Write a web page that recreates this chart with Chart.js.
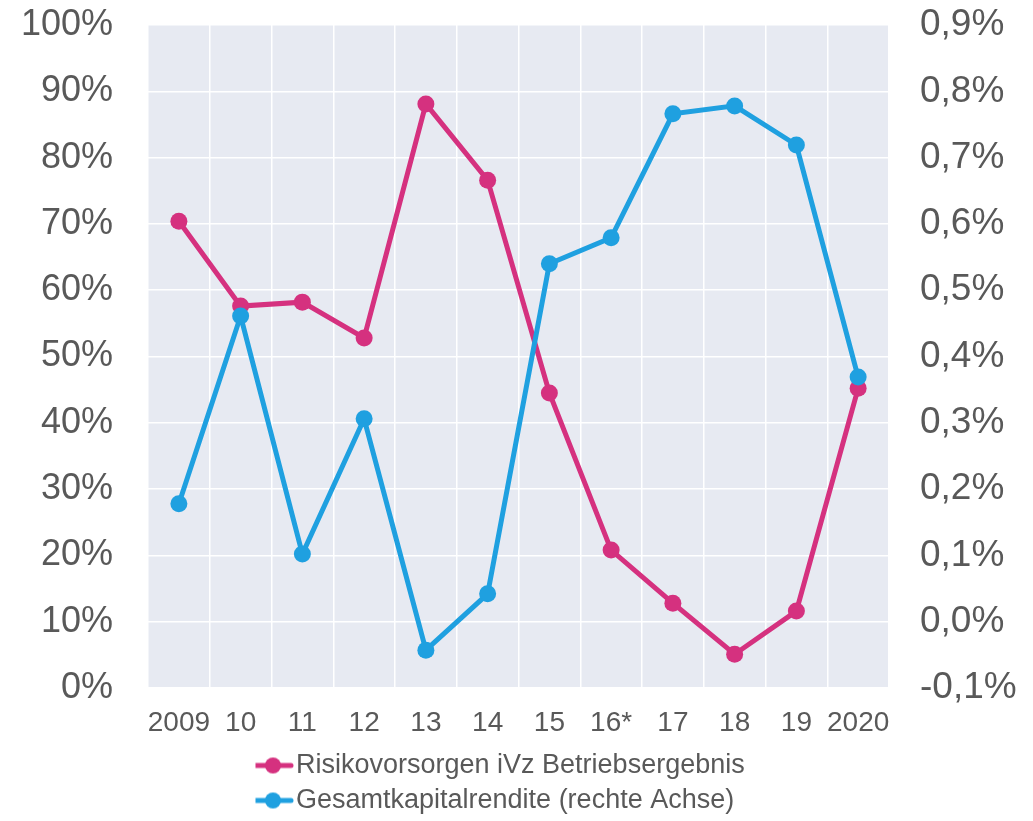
<!DOCTYPE html>
<html>
<head>
<meta charset="utf-8">
<script src="https://cdn.jsdelivr.net/npm/chart.js@4"></script>
<style>
html,body{margin:0;padding:0;background:#fff;}
#wrap{width:1033px;height:821px;position:relative;}
</style>
</head>
<body>
<div id="wrap"><canvas id="c" width="1033" height="821"></canvas></div>
<script>
const categories = ['2009','10','11','12','13','14','15','16*','17','18','19','2020'];
const risikoLabel = 'Risikovorsorgen iVz Betriebsergebnis';
const risikoValues = [70.4, 57.6, 58.2, 52.8, 88.1, 76.6, 44.5, 20.8, 12.8, 5.1, 11.6, 45.2];
const renditeLabel = 'Gesamtkapitalrendite (rechte Achse)';
const renditeValues = [0.178, 0.461, 0.102, 0.306, -0.043, 0.042, 0.540, 0.579, 0.766, 0.778, 0.719, 0.369];
const leftTicks = {min: 0, max: 100, step: 10};
const rightTicks = {min: -0.1, max: 0.9, step: 0.1};

const PINK = '#d5317f';
const BLUE = '#1fa0e0';
const TXT = '#595959';
const FONT = "'Liberation Sans', Arial, sans-serif";

function legendIcon(color){
  const cv = document.createElement('canvas');
  cv.width = 42; cv.height = 18;
  const x = cv.getContext('2d');
  x.strokeStyle = color; x.lineWidth = 5; x.lineCap = 'round';
  x.beginPath(); x.moveTo(3, 9); x.lineTo(39, 9); x.stroke();
  x.fillStyle = color; x.beginPath(); x.arc(21, 9, 8, 0, Math.PI*2); x.fill();
  return cv;
}
const icons = [legendIcon(PINK), legendIcon(BLUE)];

const plotBg = {
  id: 'plotBg',
  beforeDraw(chart){
    const {ctx, chartArea: a} = chart;
    ctx.save();
    ctx.fillStyle = '#e7eaf2';
    ctx.fillRect(a.left, a.top, a.right - a.left, a.bottom - a.top);
    ctx.restore();
  }
};
const legendShift = {
  id: 'legendShift',
  afterLayout(chart){
    const L = chart.legend;
    if (L){
      const dx = 255.5 - L.left;
      L.left += dx; L.right += dx; L.top += 3; L.bottom += 3;
    }
  }
};

new Chart(document.getElementById('c'), {
  type: 'line',
  data: {
    labels: categories,
    datasets: [
      {label: risikoLabel, data: risikoValues, yAxisID: 'y', borderColor: PINK, backgroundColor: PINK,
       borderWidth: 5, pointRadius: 8.5, pointHoverRadius: 8.5, pointBackgroundColor: PINK, pointBorderWidth: 0, order: 1, tension: 0},
      {label: renditeLabel, data: renditeValues, yAxisID: 'y1', borderColor: BLUE, backgroundColor: BLUE,
       borderWidth: 5, pointRadius: 8.5, pointHoverRadius: 8.5, pointBackgroundColor: BLUE, pointBorderWidth: 0, order: 0, tension: 0}
    ]
  },
  options: {
    responsive: false,
    animation: false,
    events: [],
    layout: {autoPadding: false, padding: {left: 0, right: 0, top: 25, bottom: 0}},
    scales: {
      x: {
        offset: true,
        grid: {offset: true, color: '#ffffff', lineWidth: 1.5, drawTicks: false},
        border: {display: false},
        ticks: {color: TXT, font: {family: FONT, size: 28}, padding: 18, maxRotation: 0, autoSkip: false},
        afterFit(s){ s.height = 53; s.paddingLeft = 0; s.paddingRight = 0; }
      },
      y: {
        position: 'left',
        min: leftTicks.min, max: leftTicks.max,
        grid: {color: '#ffffff', lineWidth: 1.5, drawTicks: false},
        border: {display: false},
        ticks: {stepSize: leftTicks.step, color: TXT, font: {family: FONT, size: 36}, padding: 35,
                callback: v => v + '%'},
        afterFit(s){ s.width = 148; s.paddingTop = 0; s.paddingBottom = 0; }
      },
      y1: {
        position: 'right',
        min: rightTicks.min, max: rightTicks.max,
        grid: {display: false, drawTicks: false},
        border: {display: false},
        ticks: {stepSize: rightTicks.step, color: TXT, font: {family: FONT, size: 37}, padding: 31,
                callback: v => (Math.round(v*10)/10).toFixed(1).replace('.', ',') + '%'},
        afterFit(s){ s.width = 144; s.paddingTop = 0; s.paddingBottom = 0; }
      }
    },
    plugins: {
      tooltip: {enabled: false},
      legend: {
        position: 'bottom',
        fullSize: false,
        align: 'start',
        labels: {
          color: TXT,
          font: {family: FONT, size: 27},
          usePointStyle: true,
          pointStyleWidth: 19,
          boxHeight: 18,
          padding: 8,
          sort: (a, b) => a.datasetIndex - b.datasetIndex,
          generateLabels(chart){
            const items = Chart.defaults.plugins.legend.labels.generateLabels(chart);
            items.forEach(it => { it.pointStyle = icons[it.datasetIndex]; });
            return items;
          }
        }
      }
    }
  },
  plugins: [plotBg, legendShift]
});
</script>
</body>
</html>
